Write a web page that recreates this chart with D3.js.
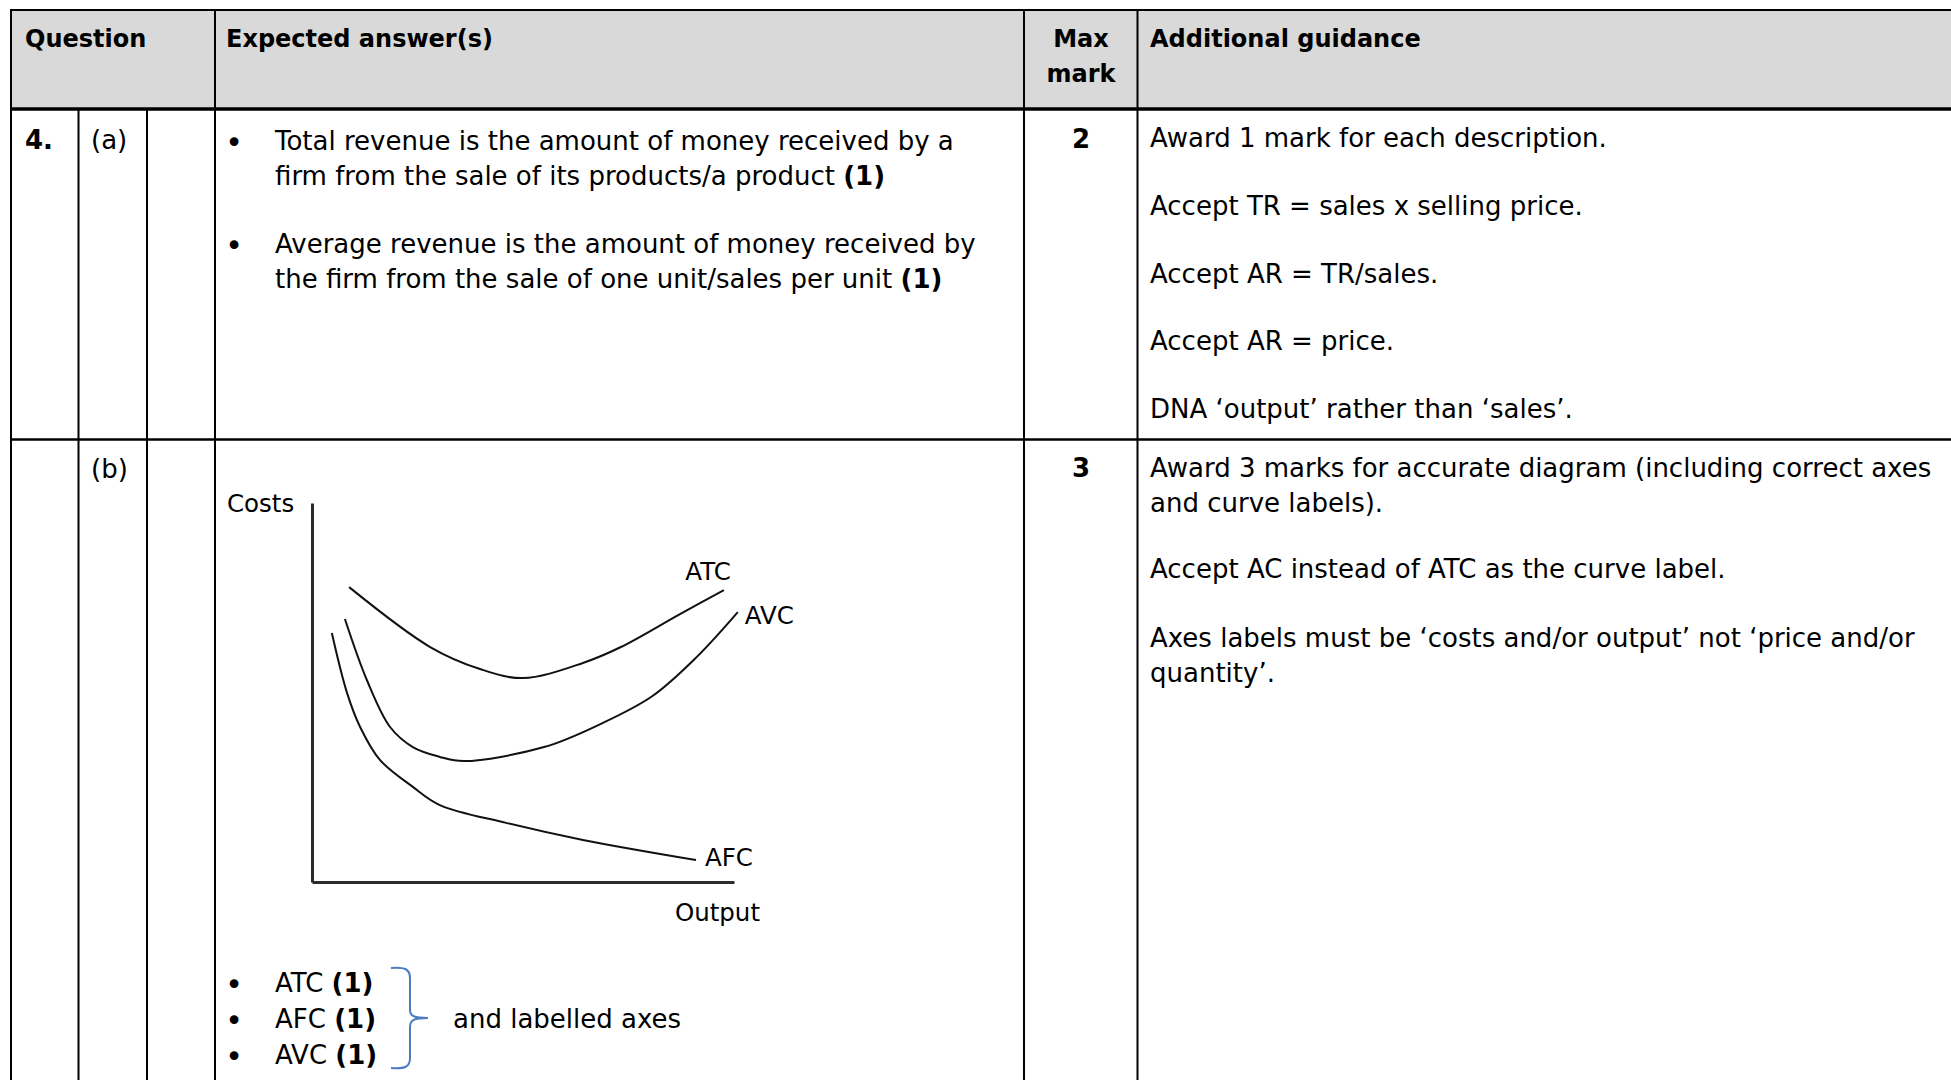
<!DOCTYPE html>
<html><head><meta charset="utf-8">
<script src="https://cdn.jsdelivr.net/npm/d3@7"></script>
<style>html,body{margin:0;padding:0;background:#fff;overflow:hidden}</style>
</head><body>
<svg id="chart" width="1951" height="1080"></svg>
<script>
// ---------- data ----------
const headerLabels = ["Question", "Expected answer(s)", "Max", "mark", "Additional guidance"];
const questionLabels = ["4.", "(a)", "(b)"];
const maxMarks = ["2", "3"];
const answerA = [
  ["Total revenue is the amount of money received by a", "firm from the sale of its products/a product (1)"],
  ["Average revenue is the amount of money received by", "the firm from the sale of one unit/sales per unit (1)"]
];
const guidanceA = [
  ["Award 1 mark for each description."],
  ["Accept TR = sales x selling price."],
  ["Accept AR = TR/sales."],
  ["Accept AR = price."],
  ["DNA \u2018output\u2019 rather than \u2018sales\u2019."]
];
const guidanceB = [
  ["Award 3 marks for accurate diagram (including correct axes", "and curve labels)."],
  ["Accept AC instead of ATC as the curve label."],
  ["Axes labels must be \u2018costs and/or output\u2019 not \u2018price and/or", "quantity\u2019."]
];
const axisLabels = ["Costs", "Output"];
const curveNames = ["ATC", "AVC", "AFC"];
// curve points: output (0-100) and costs (0-100)
const atcOutput = [8.8, 28.0, 39.8, 50.0, 64.2, 73.2, 87.2, 97.6];
const atcCost   = [77.8, 62.0, 56.2, 53.8, 57.8, 62.0, 70.7, 77.0];
const avcOutput = [7.8, 13.0, 18.5, 23.9, 30.3, 36.0, 55.0, 68.2, 80.6, 91.2, 100.9];
const avcCost   = [69.4, 53.3, 40.9, 35.6, 33.0, 31.9, 35.6, 41.6, 49.0, 59.4, 71.2];
const afcOutput = [4.7, 8.3, 11.4, 16.1, 23.9, 30.3, 46.0, 64.2, 91.0];
const afcCost   = [65.7, 49.9, 40.9, 32.2, 25.1, 20.3, 15.6, 11.1, 5.8];
const markList = ["ATC (1)", "AFC (1)", "AVC (1)"];
const markNote = "and labelled axes";

// ---------- drawing ----------
const svg = d3.select("#chart");
const FONT = "'DejaVu Sans', Verdana, sans-serif";
const BODY = 26, HEAD = 24;

// header background
svg.append("rect").attr("x", 11).attr("y", 10).attr("width", 1951 - 11).attr("height", 99).attr("fill", "#d9d9d9");

function hline(y, x1, x2, w) {
  svg.append("line").attr("x1", x1).attr("x2", x2).attr("y1", y).attr("y2", y)
    .attr("stroke", "#000").attr("stroke-width", w);
}
function vline(x, y1, y2, w) {
  svg.append("line").attr("x1", x).attr("x2", x).attr("y1", y1).attr("y2", y2)
    .attr("stroke", "#000").attr("stroke-width", w);
}
hline(10, 10, 1951, 2);
hline(109, 10, 1951, 3.5);
hline(439.5, 10, 1951, 2.5);
vline(11, 9, 1080, 2);
vline(78.5, 109, 1080, 2);
vline(147, 109, 1080, 2);
vline(215, 9, 1080, 2);
vline(1024, 9, 1080, 2);
vline(1137.5, 9, 1080, 2);

function richText(x, y, str, size, opts = {}) {
  const t = svg.append("text").attr("x", x).attr("y", y)
    .attr("font-family", FONT).attr("font-size", size).attr("fill", "#000")
    .attr("text-anchor", opts.anchor || "start")
    .attr("font-weight", opts.bold ? "bold" : "normal");
  const parts = str.split(/(\(1\))/).filter(s => s.length);
  parts.forEach(p => {
    t.append("tspan").text(p).attr("font-weight", (opts.bold || p === "(1)") ? "bold" : "normal");
  });
  t.attr("xml:space", "preserve");
  return t;
}

// header texts
richText(25, 47, headerLabels[0], HEAD, {bold: true});
richText(226, 47, headerLabels[1], HEAD, {bold: true});
richText(1081, 47, headerLabels[2], HEAD, {bold: true, anchor: "middle"});
richText(1081, 82, headerLabels[3], HEAD, {bold: true, anchor: "middle"});
richText(1150, 47, headerLabels[4], HEAD, {bold: true});

// row (a)
const BUL = 30;
richText(25, 149, questionLabels[0], BODY, {bold: true});
richText(91, 149, questionLabels[1], BODY);
richText(1081, 148, maxMarks[0], BODY, {bold: true, anchor: "middle"});
const answerABase = [150, 253];
answerA.forEach((para, i) => {
  richText(234, answerABase[i] + 3, "\u2022", BUL, {anchor: "middle"});
  para.forEach((ln, j) => richText(275, answerABase[i] + j * 35, ln, BODY));
});
const guidanceABase = [147, 215, 283, 350, 418];
guidanceA.forEach((para, i) => para.forEach((ln, j) => richText(1150, guidanceABase[i] + j * 35, ln, BODY)));

// row (b)
richText(91, 478, questionLabels[2], BODY);
richText(1081, 477, maxMarks[1], BODY, {bold: true, anchor: "middle"});
const guidanceBBase = [477, 578, 647];
guidanceB.forEach((para, i) => para.forEach((ln, j) => richText(1150, guidanceBBase[i] + j * 35, ln, BODY)));

// ---------- cost curve diagram ----------
const x = d3.scaleLinear().domain([0, 100]).range([312, 734]);
const y = d3.scaleLinear().domain([0, 100]).range([882, 503]);
const g = svg.append("g");

const xAxis = g.append("g").attr("transform", `translate(0,${y(0)})`)
  .call(d3.axisBottom(x).ticks(0).tickSizeOuter(0));
const yAxis = g.append("g").attr("transform", `translate(${x(0)},0)`)
  .call(d3.axisLeft(y).ticks(0).tickSizeOuter(0));
[xAxis, yAxis].forEach(a => a.select(".domain").attr("stroke", "#2b2b2b").attr("stroke-width", 3));

const series = [
  {name: curveNames[0], xs: atcOutput, ys: atcCost},
  {name: curveNames[1], xs: avcOutput, ys: avcCost},
  {name: curveNames[2], xs: afcOutput, ys: afcCost}
];
const line = d3.line().x(d => x(d[0])).y(d => y(d[1])).curve(d3.curveCatmullRom.alpha(0.5));
series.forEach(s => {
  const pts = s.xs.map((v, i) => [v, s.ys[i]]);
  g.append("path").attr("d", line(pts)).attr("fill", "none")
    .attr("stroke", "#111").attr("stroke-width", 2);
});

const LBL = 24.5;
function endOf(s) { const n = s.xs.length - 1; return [x(s.xs[n]), y(s.ys[n])]; }
let e = endOf(series[0]);
richText(e[0] + 7, e[1] - 10, series[0].name, LBL, {anchor: "end"});
e = endOf(series[1]);
richText(e[0] + 7, e[1] + 12, series[1].name, LBL);
e = endOf(series[2]);
richText(e[0] + 9, e[1] + 6, series[2].name, LBL);

richText(x(0) - 85, y(100) + 9, axisLabels[0], LBL);
richText(x(100) + 26, y(0) + 39, axisLabels[1], LBL, {anchor: "end"});

// bullet list under diagram
const listBase = [992, 1028, 1064];
markList.forEach((m, i) => {
  richText(234, listBase[i] + 3, "\u2022", BUL, {anchor: "middle"});
  richText(275, listBase[i], m, BODY);
});
const p = d3.path();
p.moveTo(391, 968); p.bezierCurveTo(405, 967, 410, 969, 410, 978);
p.lineTo(410, 1010); p.bezierCurveTo(410, 1016, 414, 1018, 428, 1018);
p.moveTo(428, 1018); p.bezierCurveTo(414, 1018, 410, 1020, 410, 1027);
p.lineTo(410, 1058); p.bezierCurveTo(410, 1067, 405, 1069, 391, 1068);
svg.append("path").attr("d", p.toString()).attr("fill", "none").attr("stroke", "#4a7cc4").attr("stroke-width", 2);
richText(453, 1028, markNote, BODY);
</script>
</body></html>
